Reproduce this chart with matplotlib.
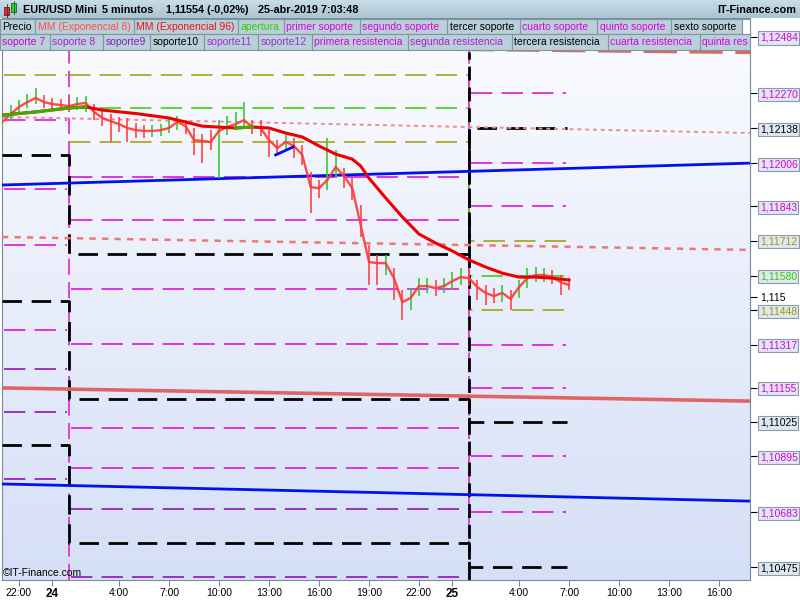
import numpy as np
import matplotlib
matplotlib.use('Agg')
import matplotlib.pyplot as plt
from matplotlib.patches import Rectangle
from matplotlib.colors import LinearSegmentedColormap

plt.rcParams['font.family'] = ['Liberation Sans', 'DejaVu Sans']

# ---------------- data ----------------
# time axis: hours since 23-abr-2019 22:00, 30-minute samples
t = np.arange(-1, 33.01, 0.5)
close = [1.12162,1.12192,1.12219,1.12237,1.12253,1.12237,1.12230,1.12226,1.12222,1.12230,
         1.12234,1.12200,1.12177,1.12165,1.12154,1.12139,1.12131,1.12128,1.12128,1.12131,
         1.12139,1.12162,1.12146,1.12093,1.12090,1.12086,1.12128,1.12143,1.12154,1.12169,
         1.12143,1.12139,1.12093,1.12063,1.12086,1.12071,1.12037,1.11915,1.11911,1.11942,
         1.11991,1.11957,1.11911,1.11771,1.11631,1.11627,1.11627,1.11570,1.11479,1.11495,
         1.11540,1.11540,1.11532,1.11540,1.11559,1.11574,1.11570,1.11536,1.11514,1.11502,
         1.11514,1.11491,1.11536,1.11570,1.11582,1.11582,1.11574,1.11555,1.11544]
highs = [1.12184,1.12226,1.12245,1.12268,1.12290,1.12264,1.12253,1.12249,1.12253,1.12256,
         1.12260,1.12230,1.12207,1.12192,1.12181,1.12177,1.12158,1.12150,1.12150,1.12154,
         1.12177,1.12184,1.12169,1.12139,1.12116,1.12131,1.12169,1.12184,1.12200,1.12237,
         1.12169,1.12169,1.12131,1.12093,1.12112,1.12101,1.12074,1.11972,1.11942,1.12101,
         1.12056,1.11987,1.11949,1.11847,1.11695,1.11658,1.11658,1.11608,1.11525,1.11532,
         1.11570,1.11570,1.11563,1.11570,1.11593,1.11608,1.11601,1.11563,1.11544,1.11532,
         1.11544,1.11525,1.11563,1.11608,1.11612,1.11608,1.11601,1.11582,1.11570]
lows = [1.12131,1.12169,1.12200,1.12215,1.12230,1.12215,1.12207,1.12207,1.12200,1.12207,
        1.12200,1.12169,1.12146,1.12086,1.12124,1.12086,1.12101,1.12101,1.12105,1.12109,
        1.12120,1.12131,1.12116,1.12037,1.12006,1.12056,1.11949,1.12112,1.12131,1.12139,
        1.12116,1.12109,1.12029,1.12037,1.12056,1.12025,1.11999,1.11817,1.11874,1.11904,
        1.11949,1.11911,1.11866,1.11726,1.11544,1.11544,1.11582,1.11487,1.11411,1.11449,
        1.11502,1.11514,1.11502,1.11514,1.11525,1.11544,1.11540,1.11487,1.11468,1.11476,
        1.11479,1.11449,1.11495,1.11532,1.11555,1.11555,1.11548,1.11506,1.11525]

ema96_t = [-1,1,3,4,5,7,9,11,13,14,15,16,17,18,19,20,20.5,21,22,23,24,25,26,27,28,29,30,31,32,33]
ema96_v = [1.12188,1.12200,1.12215,1.12219,1.12207,1.12194,1.12177,1.12146,1.12139,1.12143,
           1.12139,1.12120,1.12105,1.12071,1.12040,1.12021,1.11995,1.11949,1.11874,1.11802,
           1.11737,1.11703,1.11673,1.11639,1.11612,1.11589,1.11574,1.11574,1.11570,1.11563]

# day boundaries (pivot days)
day_edges = [-1.02, 3, 27, 32.9]

# coloured support / resistance levels per day
day1_levels = [1.12340, 1.12169, 1.11908, 1.11695, 1.11373, 1.11225, 1.11062, 1.10809]
day1_kinds  = ['o', 'm', 'm', 'm', 'm', 'p', 'p', 'p']
day2_levels = [1.11953, 1.11790, 1.11529, 1.11320, 1.11002, 1.10850, 1.10695, 1.10437]
day2_kinds  = ['m', 'm', 'm', 'm', 'm', 'm', 'p', 'p']
day3_levels = [1.12484, 1.12270, 1.12006, 1.11843, 1.11317, 1.11155, 1.10895, 1.10683]
day3_kinds  = ['m', 'm', 'm', 'm', 'm', 'm', 'm', 'm']

# black step levels (day1, day2, day3)
black_a = [1.12037, 1.11661, 1.12138]
black_b = [1.11483, 1.11112, 1.11025]
black_c = [1.10937, 1.10566, 1.10475]
# apertura and bands (day2, day3)
apertura = [1.12215, 1.11580]
band_hi  = [1.12340, 1.11712]
band_lo  = [1.12086, 1.11448]

# trend lines (start, end) across the full width
trend_x = [-1.02, 43.86]
blue_up   = [1.11923, 1.12006]
blue_down = [1.10790, 1.10725]
salmon    = [1.11154, 1.11104]
dot1      = [1.12181, 1.12120]
dot2      = [1.11726, 1.11677]
top_dash  = [1.12457, 1.12427]
blue_short_x = [15.4, 16.44]
blue_short_y = [1.12037, 1.12067]

right_ticks  = [1.12484,1.12270,1.12138,1.12006,1.11843,1.11712,1.11580,1.115,
                1.11448,1.11317,1.11155,1.11025,1.10895,1.10683,1.10475]
right_labels = ['1,12484','1,12270','1,12138','1,12006','1,11843','1,11712','1,11580','1,115',
                '1,11448','1,11317','1,11155','1,11025','1,10895','1,10683','1,10475']
right_kinds  = ['m','m','k','m','m','o','g','n','o','m','m','k','m','m','k']

x_ticks  = [0, 2, 6, 9, 12, 15, 18, 21, 24, 26, 30, 33, 36, 39, 42]
x_labels = ['22:00','24','4:00','7:00','10:00','13:00','16:00','19:00','22:00','25',
            '4:00','7:00','10:00','13:00','16:00']

# ---------------- style ----------------
C = {'m': '#dd00dd', 'p': '#8800bb', 'o': '#a09a00', 'g': '#33cc00', 'k': 'black', 'n': 'black'}
DASH = (0, (14, 6))
FS = 7.5

fig = plt.figure(figsize=(8, 6), dpi=100, facecolor='white')
ax = fig.add_axes([2/800, 20/600, 748/800, 562/600])
X0, X1 = -1.02, 43.86
Y0, Y1 = 1.10426, 1.12556
ax.set_xlim(X0, X1)
ax.set_ylim(Y0, Y1)

cmap = LinearSegmentedColormap.from_list('bg', ['#fbfcff', '#d5dff6'])
ax.imshow(np.linspace(0, 1, 256).reshape(-1, 1), extent=[X0, X1, Y0, Y1],
          aspect='auto', cmap=cmap, origin='upper', zorder=0)

# coloured horizontal levels
for (a, b), lv, kd in [((day_edges[0], day_edges[1]), day1_levels, day1_kinds),
                       ((day_edges[1], day_edges[2]), day2_levels, day2_kinds),
                       ((day_edges[2], day_edges[3]), day3_levels, day3_kinds)]:
    for v, k in zip(lv, kd):
        ax.plot([a + 0.1, b - 0.1], [v, v], color=C[k], lw=1.1, ls=DASH, zorder=2)

# apertura / bands steps (day2 -> day3)
for vals, col in [(band_hi, C['o']), (apertura, C['g']), (band_lo, C['o'])]:
    ax.plot([day_edges[1], day_edges[2], day_edges[2], day_edges[3]],
            [vals[0], vals[0], vals[1], vals[1]], color=col, lw=1.1, ls=DASH, zorder=2)

# day separators
for d in day_edges[1:3]:
    ax.axvline(d, color='#dd33dd', lw=1.3, ls=(0, (9, 4)), zorder=2)
ax.axvline(day_edges[2], color='black', lw=2, ls=(0, (5, 2.5)), ymin=0.0, ymax=0.94, zorder=2)

# black step levels
for vals in [black_a, black_b, black_c]:
    xs = [day_edges[0], day_edges[1], day_edges[1], day_edges[2], day_edges[2], day_edges[3]]
    ys = [vals[0], vals[0], vals[1], vals[1], vals[2], vals[2]]
    ax.plot(xs, ys, color='black', lw=2, ls=(0, (7, 3.5)), zorder=3)

# trend lines
ax.plot(trend_x, dot1, color='#f08a8a', lw=1.4, ls=(0, (2, 2)), zorder=3)
ax.plot(trend_x, dot2, color='#ee7777', lw=1.8, ls=(0, (2.5, 2.5)), zorder=3)
ax.plot(trend_x, top_dash, color='#e06666', lw=3, ls=(0, (8, 3)), zorder=3)
ax.plot(trend_x, salmon, color='#e06464', lw=2.6, zorder=3)
ax.plot(trend_x, blue_up, color='#0010ee', lw=2, zorder=3)
ax.plot(trend_x, blue_down, color='#0010ee', lw=2, zorder=3)
ax.plot(blue_short_x, blue_short_y, color='#0010ee', lw=2, zorder=6)

# price wicks
cols = ['#33cc33'] + ['#33cc33' if close[i] >= close[i-1] else '#ff4444' for i in range(1, len(close))]
ax.vlines(t, lows, highs, colors=cols, lw=1.2, zorder=4)
ax.plot(t, close, color='#ff3838', lw=1.7, zorder=5, alpha=0.9)

# EMA 96 (red, green where price above)
ax.plot(ema96_t, ema96_v, color='#ee0000', lw=2.2, zorder=5)
ax.plot(ema96_t[0:4], ema96_v[0:4], color='#44aa00', lw=2.2, zorder=5)
ax.plot(ema96_t[8:10], ema96_v[8:10], color='#44aa00', lw=2.2, zorder=5)

# axes styling
for s in ax.spines.values():
    s.set_color('#7a8a9a')
ax.yaxis.tick_right()
ax.set_yticks(right_ticks)
ax.set_yticklabels(right_labels)
ax.tick_params(axis='y', length=5, pad=2, labelsize=FS)
for tk, lbl, k in zip(ax.yaxis.get_major_ticks(), ax.get_yticklabels(), right_kinds):
    lbl.set_color(C[k])
    tk.tick2line.set_color(C[k])
    if k != 'n':
        lbl.set_bbox(dict(facecolor='#dfe7f2', edgecolor='#8a9aaa', boxstyle='square,pad=0.15', lw=0.8))
ax.set_xticks(x_ticks)
ax.set_xticklabels(x_labels)
ax.tick_params(axis='x', length=4, color='#7a8a9a', labelsize=FS, pad=1.5)
for lbl in ax.get_xticklabels():
    if lbl.get_text() in ('24', '25'):
        lbl.set_fontweight('bold')
        lbl.set_fontsize(8.5)

# ---------------- overlay: title bar and legend ----------------
ov = fig.add_axes([0, 0, 1, 1], zorder=10)
ov.patch.set_alpha(0)
tb = LinearSegmentedColormap.from_list('tb', ['#c9dde6', '#a8c5d2'])
ov.imshow(np.linspace(0, 1, 64).reshape(-1, 1), extent=[0, 800, 18, 0], aspect='auto', cmap=tb, origin='upper')
ov.set_xlim(0, 800)
ov.set_ylim(600, 0)
ov.axis('off')
# candle icon
ov.add_patch(Rectangle((4, 7), 5, 8, facecolor='#e03030', edgecolor='#602020', lw=0.6))
ov.plot([6.5, 6.5], [4, 17], color='#602020', lw=0.6)
ov.add_patch(Rectangle((11, 3), 5, 9, facecolor='#30d030', edgecolor='#206020', lw=0.6))
ov.plot([13.5, 13.5], [1, 14], color='#206020', lw=0.6)
for xx, s in [(23, 'EUR/USD Mini'), (102, '5 minutos'), (166, '1,11554 (-0,02%)'), (258, '25-abr-2019 7:03:48')]:
    ov.text(xx, 10, s, fontsize=FS + 0.3, fontweight='bold', va='center', ha='left')
ov.text(796, 10, 'IT-Finance.com', fontsize=FS + 0.3, fontweight='bold', va='center', ha='right')

row1 = [(0, 35, 'Precio', 'black'), (35, 134, 'MM (Exponencial 8)', '#ff4d4d'),
        (134, 238, 'MM (Exponencial 96)', '#ee1111'), (238, 284, 'apertura', '#33cc00'),
        (284, 360, 'primer soporte', '#dd00dd'), (360, 447, 'segundo soporte', '#dd00dd'),
        (447, 520, 'tercer soporte', 'black'), (520, 597, 'cuarto soporte', '#dd00dd'),
        (597, 671, 'quinto soporte', '#dd00dd'), (671, 742, 'sexto soporte', 'black')]
row2 = [(0, 50, 'soporte 7', '#cc00cc'), (50, 103, 'soporte 8', '#aa22cc'),
        (103, 150, 'soporte9', '#8822bb'), (150, 204, 'soporte10', 'black'),
        (204, 258, 'soporte11', '#9933cc'), (258, 312, 'soporte12', '#9933cc'),
        (312, 408, 'primera resistencia', '#dd00dd'), (408, 512, 'segunda resistencia', '#aa22cc'),
        (512, 608, 'tercera resistencia', 'black'), (608, 700, 'cuarta resistencia', '#dd00dd'),
        (700, 750, 'quinta res', '#dd00dd')]
for y0, row in [(18.5, row1), (34, row2)]:
    for a, b, s, col in row:
        r = Rectangle((a, y0), b - a, 15.5, facecolor='#b9cfd9', edgecolor='#7f95a0', lw=0.8)
        ov.add_patch(r)
        ov.text(a + 2.5, y0 + 8.3, s, color=col, fontsize=FS, va='center', ha='left')
ov.add_patch(Rectangle((742, 18.5), 8, 15.5, facecolor='white', edgecolor='#7f95a0', lw=0.8))

ov.text(3, 573, '\u00a9IT-Finance.com', fontsize=FS, va='center', ha='left')

fig.savefig('out.png', dpi=100, facecolor='white')
